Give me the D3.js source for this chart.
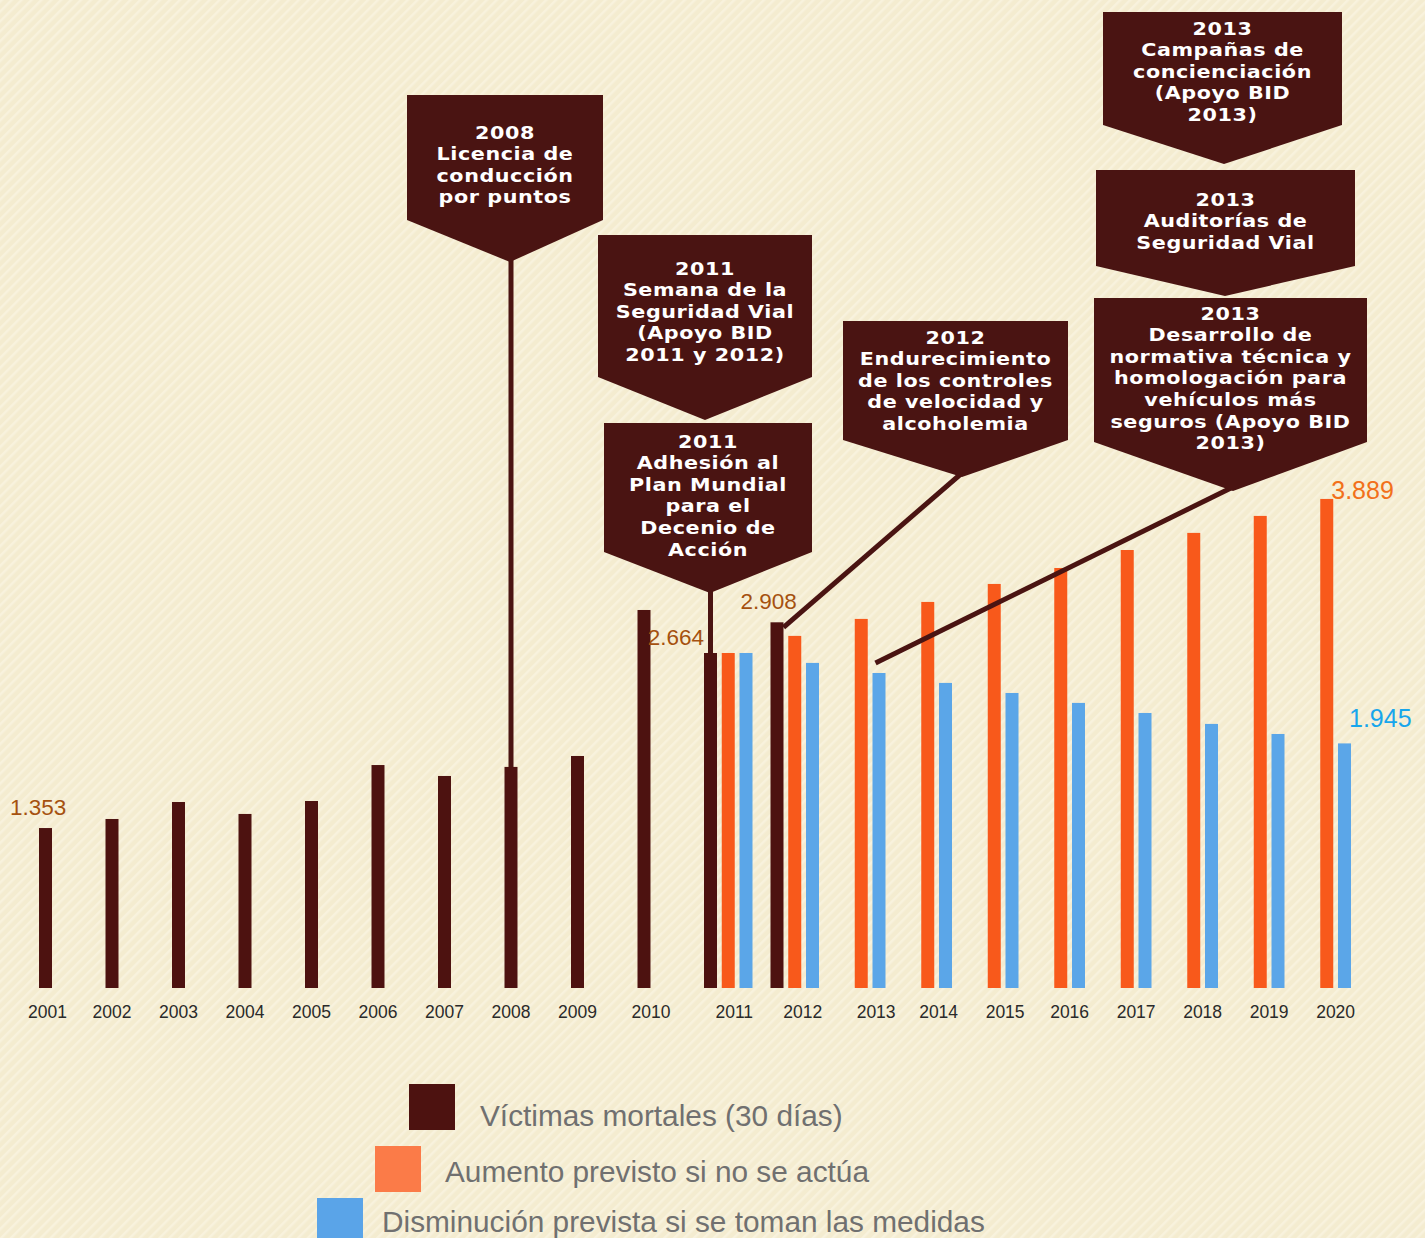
<!DOCTYPE html>
<html>
<head>
<meta charset="utf-8">
<script src="https://cdn.jsdelivr.net/npm/d3@7"></script>
<style>
  html, body { margin: 0; padding: 0; background: #f4ecd0; }
  svg { display: block; }
</style>
</head>
<body>
<svg id="chart" width="1425" height="1238"></svg>
<script>
// ---- data ----
var years = d3.range(2001, 2021).map(String);

var victimasYears = ["2001", "2002", "2003", "2004", "2005", "2006", "2007", "2008", "2009", "2010", "2011", "2012"];
var victimas = [1272, 1344, 1479, 1384, 1487, 1773, 1686, 1758, 1845, 3006, 2664, 2908];

var previstoYears = ["2011", "2012", "2013", "2014", "2015", "2016", "2017", "2018", "2019", "2020"];
var aumento = [2664, 2800, 2935, 3070, 3213, 3340, 3483, 3619, 3754, 3889];
var disminucion = [2664, 2585, 2505, 2426, 2346, 2267, 2187, 2100, 2020, 1945];

var seriesKeys = ["victimas", "aumento", "disminucion"];
var seriesLabels = ["Víctimas mortales (30 días)", "Aumento previsto si no se actúa", "Disminución prevista si se toman las medidas"];

// value labels shown on the chart
var labelYears = ["2001", "2011", "2012", "2020", "2020"];
var labelSeries = ["victimas", "victimas", "victimas", "aumento", "disminucion"];
var labelTexts = ["1.353", "2.664", "2.908", "3.889", "1.945"];

// milestones (callout text)
var hitoTexts = [
  ["2008", "Licencia de", "conducción", "por puntos"],
  ["2011", "Semana de la", "Seguridad Vial", "(Apoyo BID", "2011 y 2012)"],
  ["2011", "Adhesión al", "Plan Mundial", "para el", "Decenio de", "Acción"],
  ["2012", "Endurecimiento", "de los controles", "de velocidad y", "alcoholemia"],
  ["2013", "Campañas de", "concienciación", "(Apoyo BID", "2013)"],
  ["2013", "Auditorías de", "Seguridad Vial"],
  ["2013", "Desarrollo de", "normativa técnica y", "homologación para", "vehículos más", "seguros (Apoyo BID", "2013)"]
];

// ---- layout ----
var width = 1425, height = 1238;
var colors = { victimas: "#4d1210", aumento: "#f8591b", disminucion: "#5ba6e8" };
var legendColors = { victimas: "#4d1210", aumento: "#fb7b48", disminucion: "#5aa4e8" };
var labelColors = { victimas: "#a5510f", aumento: "#f2701a", disminucion: "#17a6ec" };
var darkFill = "#4a1412";

var svg = d3.select("#chart");

// background with faint diagonal stripes
var defs = svg.append("defs");
defs.append("pattern")
  .attr("id", "stripes")
  .attr("width", 7).attr("height", 7)
  .attr("patternUnits", "userSpaceOnUse")
  .attr("patternTransform", "rotate(45)")
  .append("rect")
  .attr("width", 2.5).attr("height", 7)
  .attr("fill", "#f8f2dd");
svg.append("rect").attr("width", width).attr("height", height).attr("fill", "#f4ecd0");
svg.append("rect").attr("width", width).attr("height", height).attr("fill", "url(#stripes)");

var x = d3.scaleBand().domain(years).range([39, 39 + 20 * 66.5]).paddingInner(0).paddingOuter(0);
var xs = d3.scaleBand().domain(seriesKeys).range([0, 48.5]).paddingInner(0.268).paddingOuter(0);
var y = d3.scaleLinear().domain([0, 4000]).range([988, 988 - 4000 * 0.125755]);

// build rows
var rows = [];
victimasYears.forEach(function (yr, i) { rows.push({ year: yr, key: "victimas", value: victimas[i] }); });
previstoYears.forEach(function (yr, i) {
  rows.push({ year: yr, key: "aumento", value: aumento[i] });
  rows.push({ year: yr, key: "disminucion", value: disminucion[i] });
});

function barX(d) { return x(d.year) + xs(d.key); }
function findRow(yr, key) { return rows.find(function (r) { return r.year === yr && r.key === key; }); }

// bars
svg.append("g").attr("class", "bars")
  .selectAll("rect")
  .data(rows)
  .enter()
  .append("rect")
  .attr("x", barX)
  .attr("y", function (d) { return y(d.value); })
  .attr("width", xs.bandwidth())
  .attr("height", function (d) { return y(0) - y(d.value); })
  .attr("fill", function (d) { return colors[d.key]; });

// year labels, centred under the bars that exist for that year
// (the original nudges the 2010-2015 labels a little to the right)
var yearNudge = { "2001": 2, "2010": 7, "2011": 6, "2012": 8, "2013": 6, "2014": 2, "2015": 2 };
svg.append("g").attr("class", "years")
  .selectAll("text")
  .data(years)
  .enter()
  .append("text")
  .attr("x", function (yr) {
    var r = rows.filter(function (d) { return d.year === yr; });
    var x0 = d3.min(r, barX), x1 = d3.max(r, function (d) { return barX(d) + xs.bandwidth(); });
    return (x0 + x1) / 2 + (yearNudge[yr] || 0);
  })
  .attr("y", 1018)
  .attr("text-anchor", "middle")
  .attr("font-family", "Liberation Sans, Arial, sans-serif")
  .attr("font-size", 17.5)
  .attr("fill", "#2a2a2a")
  .text(function (yr) { return yr; });

// value labels (offsets relative to the bar top)
var labelDx = [-29, 0, -30, 11, 11];
var labelDy = [-13, -8, -13, 0, -16];
var labelSize = [22.5, 22.5, 22.5, 25, 25];
var labelAnchor = ["start", "end", "start", "start", "start"];
svg.append("g").attr("class", "values")
  .selectAll("text")
  .data(labelTexts)
  .enter()
  .append("text")
  .attr("x", function (t, i) { return barX(findRow(labelYears[i], labelSeries[i])) + labelDx[i]; })
  .attr("y", function (t, i) { return y(findRow(labelYears[i], labelSeries[i]).value) + labelDy[i]; })
  .attr("text-anchor", function (t, i) { return labelAnchor[i]; })
  .attr("font-family", "Liberation Sans, Arial, sans-serif")
  .attr("font-size", function (t, i) { return labelSize[i]; })
  .attr("fill", function (t, i) { return labelColors[labelSeries[i]]; })
  .text(function (t) { return t; });

// callout boxes: [left, top, right, sideBottom], tip, first text line centre
var hitoBox = [
  [407, 95, 603, 220], [598, 235, 812, 377], [604, 423, 812, 552],
  [843, 321, 1068, 440], [1103, 12, 1342, 125], [1096, 170, 1355, 266], [1094, 298, 1367, 442]
];
var hitoTip = [[510, 262], [705, 420], [710, 593], [962, 477], [1224, 164], [1225, 296], [1233, 491]];
var hitoTextY = [132, 268, 441, 337, 28, 199, 313];
// connector from tip to a bar: [year, series, anchor dx, anchor dy]
var hitoTarget = [["2008", "victimas", 6.5, 0], null, ["2011", "victimas", 6.5, 0],
  ["2012", "victimas", 13, 5], null, null, ["2013", "disminucion", 3, -10]];

var callouts = svg.append("g").attr("class", "callouts");

// connectors first so the boxes sit on top
hitoTarget.forEach(function (t, i) {
  if (!t) return;
  var r = findRow(t[0], t[1]);
  var tip = hitoTip[i];
  var tx = barX(r) + t[2], ty = y(r.value) + t[3];
  var fromX = (t[1] === "victimas" && t[0] !== "2012") ? tx : tip[0];
  callouts.append("line")
    .attr("x1", fromX).attr("y1", tip[1] - 4)
    .attr("x2", tx).attr("y2", ty)
    .attr("stroke", darkFill)
    .attr("stroke-width", 5);
});

hitoBox.forEach(function (b, i) {
  var tip = hitoTip[i];
  var pts = [[b[0], b[1]], [b[2], b[1]], [b[2], b[3]], tip, [b[0], b[3]]];
  callouts.append("path")
    .attr("d", d3.line()(pts) + "Z")
    .attr("fill", darkFill);
  var cx = (b[0] + b[2]) / 2;
  hitoTexts[i].forEach(function (line, j) {
    callouts.append("text")
      .attr("transform", "translate(" + cx + "," + (hitoTextY[i] + j * 21.6 + 6.5) + ") scale(1.15,1)")
      .attr("text-anchor", "middle")
      .attr("font-family", "DejaVu Sans, Verdana, sans-serif")
      .attr("font-weight", "bold")
      .attr("font-size", 18)
      .attr("letter-spacing", 0.5)
      .attr("fill", "#ffffff")
      .text(line);
  });
});

// legend
var legendSq = [[409, 1084], [375, 1146], [317, 1198]];
var legendTextX = [480, 445, 382];
var legendTextY = [1115, 1171, 1221];
var legend = svg.append("g").attr("class", "legend");
seriesKeys.forEach(function (k, i) {
  legend.append("rect")
    .attr("x", legendSq[i][0]).attr("y", legendSq[i][1])
    .attr("width", 46).attr("height", 46)
    .attr("fill", legendColors[k]);
  legend.append("text")
    .attr("x", legendTextX[i]).attr("y", legendTextY[i] + 10.5)
    .attr("font-family", "Liberation Sans, Arial, sans-serif")
    .attr("font-size", 29.8)
    .attr("fill", "#707070")
    .text(seriesLabels[i]);
});
</script>
</body>
</html>
